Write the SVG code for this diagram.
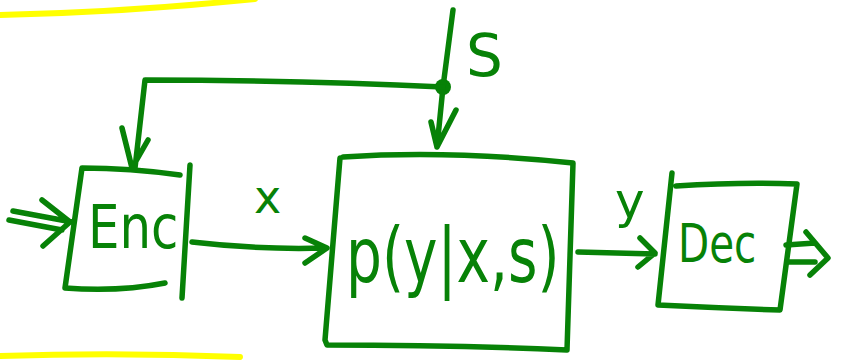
<svg xmlns="http://www.w3.org/2000/svg" width="860" height="360" viewBox="0 0 860 360">
<style>
.s{fill:none;stroke:#078207;stroke-width:5.5;stroke-linecap:round;stroke-linejoin:round}
.hl{fill:none;stroke:#ffff00;stroke-width:6;stroke-linecap:round}
.t{fill:#078207;font-family:"DejaVu Sans","Liberation Sans",sans-serif}
</style>
<rect width="860" height="360" fill="#ffffff"/>
<g id="highlights">
<path class="hl" d="M0 15 Q130 12 255 -1"/>
<path class="hl" d="M0 356 Q120 352 240 357"/>
</g>
<g id="enc">
<path class="s" d="M180 175 Q130 168 82 168 L65 288 Q120 292 165 283"/>
<path class="s" d="M190 165 L182 298"/>
<text class="t" transform="translate(88 248) scale(0.83 1)" font-size="60">Enc</text>
</g>
<g id="channel">
<path class="s" d="M343 157 Q450 150 573 163 L567 350 Q450 345 327 345 L325 340 L340 158"/>
<text class="t" transform="translate(346 282) scale(0.745 1)" font-size="76">p(y|x,s)</text>
</g>
<g id="dec">
<path class="s" d="M672 173 L658 305 Q720 308 780 310 L797 184 Q740 182 676 186"/>
<text class="t" transform="translate(678 262) scale(0.75 1)" font-size="54">Dec</text>
</g>
<g id="junction">
<circle cx="443" cy="87" r="8" fill="#078207"/>
</g>
<g id="connectors">
<path class="s" d="M13 211 L72 222 M9 220 L62 230 M42 200 L70 222 L43 246"/>
<path class="s" d="M453 10 L443 87 L437 147 M431 122 L437 147 L456 110"/>
<path class="s" d="M443 87 Q300 80 145 80 L135 168 M122 128 L132 168 L148 140"/>
<path class="s" d="M192 242 Q260 250 325 248 M305 238 L327 248 L305 263"/>
<path class="s" d="M578 252 L655 254 M640 238 L655 253 L638 267"/>
<path class="s" d="M786 245 L815 243 M789 262 L815 262 M806 232 L828 258 L810 275"/>
</g>
<g id="labels">
<text class="t" x="466" y="76" font-size="58">S</text>
<text class="t" x="254" y="213" font-size="46">x</text>
<text class="t" x="615" y="218" font-size="50">y</text>
</g>
</svg>
